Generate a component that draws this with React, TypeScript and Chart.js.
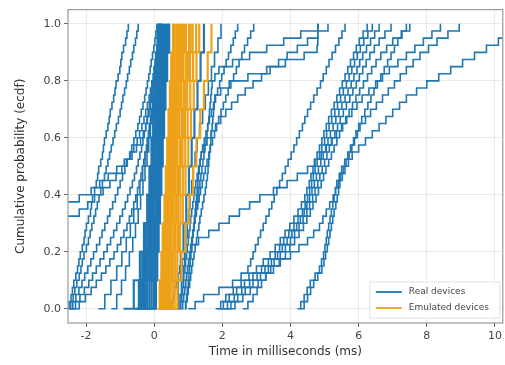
import React, { useEffect, useRef } from 'react';
import { Chart, registerables } from 'chart.js';

Chart.register(...registerables);

// ECDF probability levels
const levels40 = [0, 0.025, 0.05, 0.075, 0.1, 0.125, 0.15, 0.175, 0.2, 0.225, 0.25, 0.275, 0.3, 0.325, 0.35, 0.375, 0.4, 0.425, 0.45, 0.475, 0.5, 0.525, 0.55, 0.575, 0.6, 0.625, 0.65, 0.675, 0.7, 0.725, 0.75, 0.775, 0.8, 0.825, 0.85, 0.875, 0.9, 0.925, 0.95, 0.975, 1.0];
const levels20 = [0, 0.05, 0.1, 0.15, 0.2, 0.25, 0.3, 0.35, 0.4, 0.45, 0.5, 0.55, 0.6, 0.65, 0.7, 0.75, 0.8, 0.85, 0.9, 0.95, 1.0];
const levels10 = [0, 0.1, 0.2, 0.3, 0.4, 0.5, 0.6, 0.7, 0.8, 0.9, 1.0];

// Real devices, time (ms) at each of levels40
const real40: number[][] = [
  [-2.55, -2.5, -2.44, -2.4, -2.36, -2.3, -2.25, -2.21, -2.17, -2.11, -2.06, -2.03, -1.99, -1.93, -1.87, -1.84, -1.81, -1.75, -1.7, -1.66, -1.63, -1.57, -1.52, -1.49, -1.46, -1.41, -1.36, -1.32, -1.29, -1.24, -1.19, -1.15, -1.12, -1.06, -1.01, -0.98, -0.95, -0.9, -0.84, -0.8, -0.76],
  [-2.5, -2.45, -2.38, -2.33, -2.27, -2.2, -2.15, -2.11, -2.06, -1.99, -1.93, -1.88, -1.83, -1.77, -1.72, -1.67, -1.62, -1.57, -1.52, -1.46, -1.41, -1.36, -1.31, -1.26, -1.21, -1.16, -1.11, -1.05, -1.0, -0.96, -0.92, -0.87, -0.82, -0.78, -0.73, -0.69, -0.64, -0.6, -0.55, -0.51, -0.47],
  [-2.48, -2.39, -2.3, -2.21, -2.12, -2.04, -1.95, -1.86, -1.78, -1.69, -1.6, -1.53, -1.45, -1.37, -1.3, -1.22, -1.14, -1.07, -1.0, -0.93, -0.86, -0.79, -0.72, -0.66, -0.6, -0.54, -0.48, -0.43, -0.38, -0.33, -0.28, -0.24, -0.2, -0.16, -0.12, -0.09, -0.05, -0.01, 0.02, 0.05, 0.08],
  [-2.45, -2.31, -2.18, -2.05, -1.92, -1.81, -1.7, -1.59, -1.48, -1.38, -1.28, -1.19, -1.1, -1.01, -0.93, -0.85, -0.78, -0.71, -0.64, -0.58, -0.52, -0.47, -0.42, -0.37, -0.33, -0.29, -0.25, -0.21, -0.18, -0.14, -0.11, -0.08, -0.05, -0.02, 0.0, 0.03, 0.05, 0.08, 0.1, 0.12, 0.14],
  [-2.4, -2.2, -2.02, -1.85, -1.7, -1.55, -1.42, -1.3, -1.18, -1.08, -0.98, -0.89, -0.8, -0.73, -0.66, -0.6, -0.54, -0.49, -0.44, -0.39, -0.35, -0.31, -0.27, -0.23, -0.2, -0.17, -0.14, -0.11, -0.08, -0.05, -0.03, 0.0, 0.02, 0.04, 0.06, 0.08, 0.1, 0.12, 0.14, 0.16, 0.18],
  [-6, -5.8, -5.6, -5.4, -5.2, -5, -4.8, -4.6, -4.4, -4.2, -4.0, -3.8, -3.6, -3.35, -3.1, -2.85, -2.2, -1.85, -1.6, -1.35, -1.1, -0.88, -0.65, -0.52, -0.4, -0.32, -0.25, -0.2, -0.15, -0.11, -0.08, -0.05, -0.02, 0.0, 0.03, 0.05, 0.08, 0.1, 0.13, 0.15, 0.18],
  [-7, -6.7, -6.4, -6.1, -5.8, -5.5, -5.2, -4.9, -4.6, -4.3, -4.0, -3.6, -3.2, -2.7, -2.2, -1.95, -1.75, -1.5, -1.3, -1.12, -0.95, -0.82, -0.7, -0.6, -0.5, -0.43, -0.36, -0.3, -0.25, -0.2, -0.15, -0.11, -0.07, -0.03, 0.0, 0.03, 0.06, 0.09, 0.12, 0.16, 0.2],
  [0.75, 0.77, 0.8, 0.82, 0.85, 0.87, 0.9, 0.92, 0.95, 0.97, 1.0, 1.02, 1.05, 1.07, 1.1, 1.13, 1.16, 1.19, 1.22, 1.26, 1.3, 1.34, 1.38, 1.42, 1.47, 1.52, 1.57, 1.62, 1.68, 1.74, 1.8, 1.86, 1.92, 1.98, 2.05, 2.11, 2.18, 2.25, 2.32, 2.38, 2.45],
  [0.8, 0.83, 0.86, 0.89, 0.92, 0.95, 0.98, 1.01, 1.04, 1.07, 1.1, 1.13, 1.17, 1.2, 1.24, 1.28, 1.32, 1.36, 1.41, 1.45, 1.5, 1.55, 1.6, 1.65, 1.71, 1.77, 1.83, 1.89, 1.96, 2.03, 2.1, 2.17, 2.25, 2.33, 2.41, 2.49, 2.57, 2.65, 2.74, 2.83, 2.92],
  [0.8, 0.83, 0.86, 0.89, 0.92, 0.95, 0.98, 1.01, 1.04, 1.07, 1.1, 1.13, 1.16, 1.19, 1.22, 1.25, 1.28, 1.31, 1.34, 1.37, 1.4, 1.43, 1.46, 1.49, 1.52, 1.55, 1.57, 1.6, 1.62, 1.64, 1.66, 1.68, 1.7, 1.78, 1.9, 2.3, 2.8, 3.3, 3.8, 4.3, 4.8],
  [0.9, 0.93, 0.97, 1.0, 1.04, 1.07, 1.1, 1.13, 1.17, 1.2, 1.24, 1.27, 1.31, 1.34, 1.38, 1.42, 1.46, 1.5, 1.53, 1.56, 1.58, 1.6, 1.62, 1.64, 1.66, 1.68, 1.7, 1.72, 1.74, 1.76, 1.78, 1.95, 2.2, 2.75, 3.3, 3.85, 4.4, 4.78, 4.8, 4.8, 4.81],
  [0.9, 0.92, 0.95, 0.97, 1.0, 1.02, 1.04, 1.06, 1.08, 1.1, 1.12, 1.14, 1.16, 1.18, 1.2, 1.22, 1.24, 1.26, 1.28, 1.3, 1.32, 1.35, 1.38, 1.46, 1.55, 1.67, 1.8, 1.95, 2.1, 2.27, 2.45, 2.67, 2.9, 3.15, 3.4, 3.65, 3.9, 4.2, 4.5, 4.8, 5.1],
  [0.45, 0.5, 0.55, 0.6, 0.65, 0.7, 0.75, 0.82, 0.9, 1.1, 1.3, 1.6, 1.9, 2.2, 2.5, 2.8, 3.1, 3.5, 3.9, 4.2, 4.5, 4.7, 4.9, 5.05, 5.2, 5.35, 5.5, 5.65, 5.8, 5.95, 6.1, 6.3, 6.5, 6.7, 6.9, 7.15, 7.4, 7.65, 7.9, 8.15, 8.4],
  [1.0, 1.2, 1.45, 1.9, 2.3, 2.55, 2.75, 2.83, 2.9, 2.97, 3.05, 3.12, 3.2, 3.28, 3.37, 3.45, 3.52, 3.6, 3.68, 3.76, 3.85, 3.93, 4.02, 4.1, 4.18, 4.26, 4.35, 4.42, 4.5, 4.59, 4.68, 4.78, 4.88, 4.96, 5.05, 5.13, 5.22, 5.32, 5.42, 5.51, 5.6],
  [1.87, 2.03, 2.2, 2.42, 2.65, 2.9, 3.15, 3.35, 3.55, 3.68, 3.8, 3.95, 4.1, 4.22, 4.35, 4.43, 4.5, 4.56, 4.62, 4.67, 4.72, 4.78, 4.85, 4.92, 5.0, 5.06, 5.13, 5.21, 5.3, 5.38, 5.47, 5.55, 5.64, 5.72, 5.8, 5.88, 5.96, 6.05, 6.15, 6.27, 6.4],
  [1.95, 2.15, 2.35, 2.57, 2.8, 3.02, 3.25, 3.44, 3.62, 3.76, 3.9, 4.04, 4.18, 4.29, 4.4, 4.48, 4.56, 4.63, 4.7, 4.76, 4.82, 4.89, 4.96, 5.03, 5.1, 5.17, 5.25, 5.33, 5.42, 5.51, 5.6, 5.69, 5.78, 5.86, 5.95, 6.03, 6.12, 6.23, 6.35, 6.47, 6.6],
  [2.05, 2.25, 2.45, 2.67, 2.9, 3.12, 3.35, 3.52, 3.7, 3.85, 4.0, 4.12, 4.25, 4.37, 4.48, 4.56, 4.65, 4.72, 4.8, 4.86, 4.93, 5.0, 5.07, 5.14, 5.22, 5.3, 5.38, 5.46, 5.55, 5.64, 5.74, 5.83, 5.93, 6.02, 6.12, 6.22, 6.33, 6.46, 6.6, 6.77, 6.95],
  [1.8, 1.95, 2.1, 2.32, 2.55, 2.78, 3.0, 3.2, 3.4, 3.55, 3.7, 3.84, 3.98, 4.1, 4.22, 4.32, 4.42, 4.48, 4.55, 4.6, 4.66, 4.72, 4.78, 4.85, 4.92, 4.98, 5.05, 5.12, 5.2, 5.28, 5.36, 5.44, 5.52, 5.6, 5.68, 5.76, 5.85, 5.93, 6.02, 6.13, 6.25],
  [2.15, 2.37, 2.6, 2.82, 3.05, 3.27, 3.5, 3.67, 3.85, 3.98, 4.12, 4.25, 4.38, 4.48, 4.58, 4.66, 4.75, 4.82, 4.9, 4.97, 5.04, 5.12, 5.2, 5.28, 5.36, 5.44, 5.53, 5.62, 5.72, 5.82, 5.92, 6.03, 6.14, 6.26, 6.38, 6.51, 6.65, 6.82, 7.0, 7.25, 7.5],
  [4.2, 4.3, 4.4, 4.49, 4.58, 4.72, 4.85, 4.91, 4.97, 5.01, 5.05, 5.08, 5.12, 5.16, 5.2, 5.24, 5.28, 5.32, 5.36, 5.43, 5.5, 5.59, 5.68, 5.76, 5.85, 5.92, 6.0, 6.09, 6.18, 6.27, 6.36, 6.45, 6.55, 6.65, 6.75, 6.85, 6.95, 7.05, 7.15, 7.27, 7.4],
  [4.3, 4.4, 4.5, 4.59, 4.68, 4.8, 4.92, 4.98, 5.03, 5.08, 5.12, 5.16, 5.2, 5.24, 5.28, 5.33, 5.37, 5.41, 5.45, 5.52, 5.6, 5.7, 5.81, 6.0, 6.2, 6.4, 6.6, 6.8, 7.0, 7.2, 7.4, 7.7, 8.0, 8.35, 8.7, 9.05, 9.4, 9.75, 10.1, 10.55, 11.0],
  [2.6, 2.75, 2.9, 3.02, 3.15, 3.28, 3.42, 3.7, 4.0, 4.25, 4.5, 4.68, 4.85, 4.95, 5.05, 5.15, 5.25, 5.32, 5.4, 5.47, 5.55, 5.63, 5.72, 5.8, 5.88, 5.96, 6.04, 6.2, 6.35, 6.52, 6.7, 6.87, 7.05, 7.22, 7.4, 7.6, 7.8, 8.05, 8.3, 8.62, 8.95],
];

// Real devices, time (ms) at each of levels20
const real20: number[][] = [
  [-1.64, -1.45, -1.27, -1.1, -0.95, -0.82, -0.7, -0.6, -0.5, -0.42, -0.34, -0.27, -0.2, -0.14, -0.09, -0.04, 0.0, 0.05, 0.09, 0.13, 0.17],
  [-1.26, -1.1, -0.96, -0.84, -0.73, -0.63, -0.55, -0.47, -0.4, -0.33, -0.27, -0.21, -0.16, -0.11, -0.06, -0.02, 0.02, 0.06, 0.1, 0.14, 0.2],
  [0.7, 0.76, 0.8, 0.85, 0.89, 0.93, 0.97, 1.01, 1.05, 1.1, 1.15, 1.2, 1.26, 1.33, 1.42, 1.5, 1.59, 1.68, 1.77, 1.87, 1.96],
];

// Real devices (dense cluster), time (ms) at each of levels10
const real10: number[][] = [
  [-0.55, -0.42, -0.33, -0.25, -0.18, -0.12, -0.06, -0.01, 0.04, 0.08, 0.12],
  [-0.48, -0.36, -0.27, -0.2, -0.13, -0.07, -0.02, 0.03, 0.08, 0.13, 0.17],
  [-0.4, -0.3, -0.22, -0.15, -0.09, -0.04, 0.01, 0.06, 0.11, 0.16, 0.21],
  [-0.35, -0.25, -0.17, -0.1, -0.04, 0.01, 0.06, 0.1, 0.15, 0.2, 0.25],
  [-0.3, -0.2, -0.13, -0.07, -0.02, 0.03, 0.08, 0.13, 0.18, 0.23, 0.28],
  [-0.22, -0.14, -0.08, -0.02, 0.03, 0.08, 0.12, 0.17, 0.22, 0.27, 0.32],
  [-0.15, -0.08, -0.03, 0.02, 0.07, 0.11, 0.16, 0.21, 0.26, 0.31, 0.36],
  [-0.08, -0.02, 0.03, 0.07, 0.11, 0.15, 0.19, 0.24, 0.29, 0.34, 0.4],
  [-0.6, -0.45, -0.35, -0.28, -0.2, -0.14, -0.08, -0.03, 0.02, 0.07, 0.1],
  [-0.05, 0.0, 0.04, 0.08, 0.12, 0.16, 0.2, 0.25, 0.3, 0.36, 0.42],
  [-0.9, -0.6, -0.42, -0.3, -0.2, -0.12, -0.05, 0.0, 0.05, 0.1, 0.15],
  [0.0, 0.05, 0.09, 0.13, 0.17, 0.21, 0.25, 0.29, 0.33, 0.38, 0.44],
  [0.6, 0.7, 0.78, 0.86, 0.94, 1.02, 1.1, 1.18, 1.27, 1.36, 1.46],
];

// Emulated devices, time (ms) at each of levels10
const emulated10: number[][] = [
  [0.1, 0.16, 0.21, 0.25, 0.3, 0.34, 0.38, 0.42, 0.46, 0.5, 0.55],
  [0.13, 0.19, 0.24, 0.29, 0.33, 0.38, 0.42, 0.46, 0.5, 0.55, 0.6],
  [0.15, 0.21, 0.27, 0.32, 0.37, 0.42, 0.46, 0.5, 0.55, 0.6, 0.65],
  [0.18, 0.24, 0.3, 0.35, 0.4, 0.45, 0.5, 0.55, 0.6, 0.65, 0.7],
  [0.2, 0.27, 0.33, 0.39, 0.44, 0.49, 0.54, 0.59, 0.64, 0.69, 0.75],
  [0.22, 0.3, 0.36, 0.42, 0.48, 0.53, 0.58, 0.63, 0.68, 0.73, 0.79],
  [0.25, 0.32, 0.39, 0.45, 0.5, 0.56, 0.61, 0.66, 0.72, 0.78, 0.84],
  [0.28, 0.35, 0.42, 0.48, 0.54, 0.6, 0.65, 0.71, 0.77, 0.83, 0.89],
  [0.3, 0.38, 0.45, 0.51, 0.57, 0.63, 0.68, 0.74, 0.8, 0.86, 0.93],
  [0.35, 0.43, 0.5, 0.57, 0.63, 0.69, 0.75, 0.81, 0.87, 0.94, 1.02],
  [0.38, 0.46, 0.53, 0.6, 0.67, 0.73, 0.79, 0.85, 0.92, 0.99, 1.07],
  [0.4, 0.48, 0.56, 0.63, 0.7, 0.76, 0.83, 0.9, 0.97, 1.05, 1.13],
  [0.45, 0.54, 0.62, 0.7, 0.77, 0.84, 0.91, 0.98, 1.06, 1.14, 1.23],
  [0.5, 0.6, 0.68, 0.76, 0.84, 0.92, 1.0, 1.08, 1.16, 1.24, 1.32],
  [0.55, 0.68, 0.8, 0.92, 1.03, 1.14, 1.24, 1.35, 1.46, 1.57, 1.68],
];

const xTicks = [-2, 0, 2, 4, 6, 8, 10];
const yTicks = [0, 0.2, 0.4, 0.6, 0.8, 1.0];
const seriesNames = ['Real devices', 'Emulated devices'];
const xTitle = 'Time in milliseconds (ms)';
const yTitle = 'Cumulative probability (ecdf)';

const REAL_COLOR = '#1f77b4';
const EMU_COLOR = '#eda21a';
const FONT = "'DejaVu Sans', sans-serif";

const framePlugin = {
  id: 'frameAndLegend',
  afterDraw(chart: any) {
    const { ctx, chartArea } = chart;
    ctx.save();
    ctx.strokeStyle = '#9a9a9a';
    ctx.lineWidth = 1.2;
    ctx.strokeRect(chartArea.left, chartArea.top, chartArea.right - chartArea.left, chartArea.bottom - chartArea.top);

    const w = 130;
    const h = 36;
    const x0 = chartArea.right - w - 3;
    const y0 = chartArea.bottom - h - 5;
    ctx.fillStyle = 'rgba(255,255,255,0.85)';
    ctx.strokeStyle = '#e2e2e2';
    ctx.lineWidth = 1;
    ctx.beginPath();
    ctx.rect(x0, y0, w, h);
    ctx.fill();
    ctx.stroke();
    const colors = [REAL_COLOR, EMU_COLOR];
    ctx.font = `9px ${FONT}`;
    ctx.textBaseline = 'middle';
    seriesNames.forEach((name, i) => {
      const cy = y0 + 10 + i * 16;
      ctx.strokeStyle = colors[i];
      ctx.lineWidth = 1.8;
      ctx.beginPath();
      ctx.moveTo(x0 + 6, cy);
      ctx.lineTo(x0 + 32, cy);
      ctx.stroke();
      ctx.fillStyle = '#444';
      ctx.fillText(name, x0 + 39, cy);
    });
    ctx.restore();
  },
};

function toPoints(xs: number[], levels: number[]) {
  const n = Math.min(xs.length, levels.length);
  const pts = [];
  for (let i = 0; i < n; i++) pts.push({ x: xs[i], y: levels[i] });
  return pts;
}

function line(xs: number[], levels: number[], color: string, width: number) {
  return {
    data: toPoints(xs, levels),
    borderColor: color,
    borderWidth: width,
    stepped: true,
    pointRadius: 0,
    fill: false,
  };
}

function buildDatasets() {
  const ds: any[] = [];
  emulated10.forEach((xs) => ds.push(line(xs, levels10, EMU_COLOR, 2.2)));
  real10.forEach((xs) => ds.push(line(xs, levels10, REAL_COLOR, 2.2)));
  real20.forEach((xs) => ds.push(line(xs, levels20, REAL_COLOR, 1.6)));
  real40.forEach((xs) => ds.push(line(xs, levels40, REAL_COLOR, 1.6)));
  return ds;
}

export default function App() {
  const ref = useRef<HTMLCanvasElement | null>(null);

  useEffect(() => {
    if (!ref.current) return;
    Chart.defaults.font.family = FONT;
    const chart = new Chart(ref.current, {
      type: 'line',
      data: { datasets: buildDatasets() },
      options: {
        animation: false,
        responsive: false,
        maintainAspectRatio: false,
        layout: { padding: { left: 10, right: 2, top: 6, bottom: 2 } },
        plugins: { legend: { display: false }, tooltip: { enabled: false } },
        scales: {
          x: {
            type: 'linear',
            min: -2.53,
            max: 10.23,
            afterFit: (s: any) => {
              s.height = 40;
            },
            afterBuildTicks: (s: any) => {
              s.ticks = xTicks.map((v) => ({ value: v }));
            },
            ticks: {
              color: '#444',
              font: { size: 11 },
              padding: 3,
              maxRotation: 0,
              callback: (v: any) => String(v),
            },
            grid: { color: '#efe9e4', tickColor: '#666', tickLength: 4, lineWidth: 1 },
            border: { display: false },
            title: { display: true, text: xTitle, color: '#333', font: { size: 12 }, padding: { top: 2, bottom: 4 } },
          },
          y: {
            type: 'linear',
            min: -0.05,
            max: 1.05,
            afterFit: (s: any) => {
              s.width = 58;
            },
            afterBuildTicks: (s: any) => {
              s.ticks = yTicks.map((v) => ({ value: v }));
            },
            ticks: {
              color: '#444',
              font: { size: 11 },
              padding: 3,
              callback: (v: any) => Number(v).toFixed(1),
            },
            grid: { color: '#efe9e4', tickColor: '#666', tickLength: 4, lineWidth: 1 },
            border: { display: false },
            title: { display: true, text: yTitle, color: '#333', font: { size: 12 }, padding: { top: 4, bottom: 2 } },
          },
        },
      },
      plugins: [framePlugin],
    });
    return () => chart.destroy();
  }, []);

  return (
    <div style={{ position: 'fixed', left: 0, top: 0, width: 505, height: 365, background: '#fff' }}>
      <canvas ref={ref} width={505} height={365} style={{ display: 'block' }} />
    </div>
  );
}
